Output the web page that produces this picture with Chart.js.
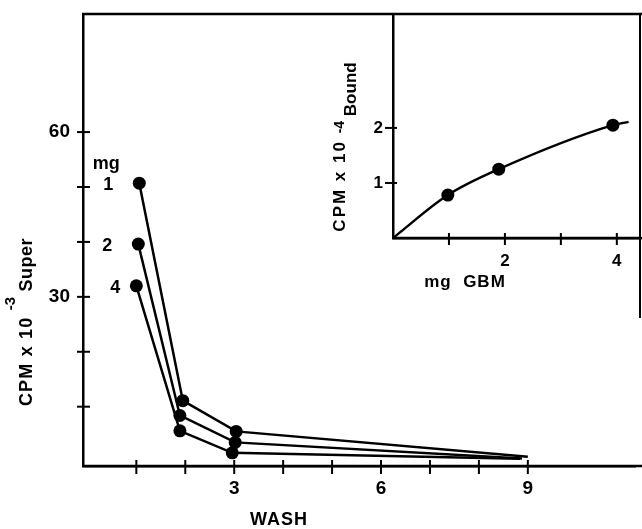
<!DOCTYPE html>
<html lang="en">
<head>
<meta charset="UTF-8">
<title>Wash</title>
<script src="https://cdn.jsdelivr.net/npm/chart.js@4.4.1/dist/chart.umd.min.js"></script>
<style>
  html, body { margin: 0; padding: 0; background: #fff; }
  #wrap { position: relative; width: 642px; height: 529px; }
  #main { position: absolute; left: 0; top: 0; }
  #inset { position: absolute; left: 330px; top: 0; }
</style>
</head>
<body>
<div id="wrap">
  <canvas id="main" width="642" height="529"></canvas>
  <canvas id="inset" width="312" height="320"></canvas>
</div>
<script>
// main plot: supernatant counts after each wash, per mg of GBM
var wash1mg = [1.06, 1.95, 3.04, 9.0];
var cpm1mg  = [50.7, 11.1, 5.5, 0.9];
var wash2mg = [1.04, 1.89, 3.02, 8.88];
var cpm2mg  = [39.6, 8.4, 3.5, 0.55];
var wash4mg = [1.0, 1.89, 2.96, 8.84];
var cpm4mg  = [32.0, 5.6, 1.6, 0.5];
var seriesNames = ['1', '2', '4'];

var washTicks = [1, 2, 3, 4, 5, 6, 7, 8, 9];
var washLabels = [3, 6, 9];
var cpmTicks = [10, 20, 30, 40, 50, 60];
var cpmLabels = [30, 60];

// inset: bound counts vs mg GBM
var gbmMg = [0, 0.98, 1.89, 3.93, 4.21];
var boundCpm = [0, 0.78, 1.25, 2.05, 2.11];
var gbmTicks = [1, 2, 3, 4];
var gbmLabels = [2, 4];
var boundTicks = [1, 2];
var boundLabels = [1, 2];

var FONT = 'Liberation Sans, Arial, sans-serif';

function pts(xs, ys) {
  return xs.map(function (x, i) { return { x: x, y: ys[i] }; });
}

function noPad(s) {
  s.paddingTop = 0; s.paddingBottom = 0; s.paddingLeft = 0; s.paddingRight = 0;
}

function drawRotated(ctx, cx, cy, parts) {
  ctx.save();
  ctx.translate(cx, cy);
  ctx.rotate(-Math.PI / 2);
  ctx.fillStyle = '#000';
  ctx.textBaseline = 'alphabetic';
  ctx.textAlign = 'left';
  var total = 0;
  parts.forEach(function (p) {
    ctx.font = p.font;
    ctx.letterSpacing = (p.ls || 0) + 'px';
    p.w = ctx.measureText(p.t).width;
    total += p.w;
  });
  var x = -total / 2;
  parts.forEach(function (p) {
    ctx.font = p.font;
    ctx.letterSpacing = (p.ls || 0) + 'px';
    ctx.fillText(p.t, x, p.dy || 0);
    x += p.w;
  });
  ctx.restore();
}

// tick marks crossing the axis line, like the "+" ticks on the print
function crossTicks(opts) {
  return {
    id: 'crossTicks',
    afterDraw: function (chart) {
      var ctx = chart.ctx, a = chart.chartArea;
      ctx.save();
      ctx.strokeStyle = '#000';
      ctx.lineWidth = 2;
      opts.x.forEach(function (v) {
        var px = chart.scales.x.getPixelForValue(v);
        ctx.beginPath();
        ctx.moveTo(px, a.bottom - opts.xIn);
        ctx.lineTo(px, a.bottom + opts.xOut);
        ctx.stroke();
      });
      opts.y.forEach(function (v) {
        var py = chart.scales.y.getPixelForValue(v);
        ctx.beginPath();
        ctx.moveTo(a.left - opts.yOut, py);
        ctx.lineTo(a.left + opts.yIn, py);
        ctx.stroke();
      });
      ctx.restore();
    }
  };
}

function lineSet(data, radii, mono) {
  return {
    data: data,
    borderColor: '#000',
    backgroundColor: '#000',
    borderWidth: 2.5,
    pointRadius: radii,
    pointBorderWidth: 0,
    fill: false,
    tension: 0,
    cubicInterpolationMode: mono ? 'monotone' : 'default'
  };
}

var mainDecor = {
  id: 'mainDecor',
  afterDraw: function (chart) {
    var ctx = chart.ctx, a = chart.chartArea;
    ctx.save();
    ctx.strokeStyle = '#000';
    ctx.lineWidth = 2.5;
    ctx.beginPath();
    ctx.moveTo(a.left - 1, a.top);
    ctx.lineTo(chart.width, a.top);
    ctx.moveTo(a.left, a.bottom);
    ctx.lineTo(chart.width, a.bottom);
    ctx.stroke();

    ctx.fillStyle = '#000';
    ctx.textAlign = 'center';
    ctx.textBaseline = 'middle';
    ctx.font = 'bold 18px ' + FONT;
    var firsts = [chart.getDatasetMeta(0).data[0], chart.getDatasetMeta(1).data[0], chart.getDatasetMeta(2).data[0]];
    var offs = [-31, -31, -21];
    firsts.forEach(function (p, i) {
      ctx.fillText(seriesNames[i], p.x + offs[i], p.y + 2);
    });
    ctx.fillText('mg', firsts[0].x - 33, firsts[0].y - 19);

    ctx.font = 'bold 18px ' + FONT;
    ctx.letterSpacing = '1px';
    ctx.fillText('WASH', 279, 520);
    ctx.letterSpacing = '0px';

    drawRotated(ctx, 32, 322, [
      { t: 'CPM x 10 ', font: 'bold 18px ' + FONT, ls: 1.2 },
      { t: '-3', font: 'bold 15px ' + FONT, dy: -17 },
      { t: ' Super', font: 'bold 18px ' + FONT, ls: 0.5 }
    ]);
    ctx.restore();
  }
};

new Chart(document.getElementById('main'), {
  type: 'line',
  data: {
    datasets: [
      lineSet(pts(wash1mg, cpm1mg), [6.5, 6.5, 6.5, 0]),
      lineSet(pts(wash2mg, cpm2mg), [6.5, 6.5, 6.5, 0]),
      lineSet(pts(wash4mg, cpm4mg), [6.5, 6.5, 6.5, 0])
    ]
  },
  options: {
    responsive: false,
    animation: false,
    devicePixelRatio: 1,
    layout: { padding: { top: 14, right: 0, left: 0, bottom: 0 } },
    plugins: { legend: { display: false }, tooltip: { enabled: false } },
    scales: {
      x: {
        type: 'linear',
        min: -0.09,
        max: 11.2,
        afterFit: function (s) { s.height = 63; noPad(s); },
        afterBuildTicks: function (s) { s.ticks = washTicks.map(function (v) { return { value: v }; }); },
        grid: { display: false, drawTicks: false },
        border: { display: true, color: '#000', width: 2.5 },
        ticks: {
          autoSkip: false,
          maxRotation: 0,
          padding: 11,
          color: '#000',
          font: { family: FONT, size: 19, weight: 'bold' },
          callback: function (v) { return washLabels.indexOf(v) >= 0 ? String(v) : ''; }
        }
      },
      y: {
        type: 'linear',
        min: -0.8,
        max: 81.5,
        afterFit: function (s) { s.width = 83; noPad(s); },
        afterBuildTicks: function (s) { s.ticks = cpmTicks.map(function (v) { return { value: v }; }); },
        grid: { display: false, drawTicks: false },
        border: { display: true, color: '#000', width: 2.5 },
        ticks: {
          autoSkip: false,
          padding: 13,
          color: '#000',
          font: { family: FONT, size: 19, weight: 'bold' },
          callback: function (v) { return cpmLabels.indexOf(v) >= 0 ? String(v) : ''; }
        }
      }
    }
  },
  plugins: [crossTicks({ x: washTicks, y: cpmTicks, xIn: 6, xOut: 8, yIn: 7, yOut: 6 }), mainDecor]
});

var insetDecor = {
  id: 'insetDecor',
  afterDraw: function (chart) {
    var ctx = chart.ctx, a = chart.chartArea;
    ctx.save();
    ctx.strokeStyle = '#000';
    ctx.lineWidth = 2;
    ctx.beginPath();
    ctx.moveTo(chart.width - 2, a.top);
    ctx.lineTo(chart.width - 2, a.bottom + 80);
    ctx.stroke();
    ctx.lineWidth = 2.5;
    ctx.beginPath();
    ctx.moveTo(a.left, a.bottom);
    ctx.lineTo(chart.width - 2, a.bottom);
    ctx.stroke();

    ctx.fillStyle = '#000';
    ctx.textAlign = 'center';
    ctx.textBaseline = 'middle';
    ctx.font = 'bold 17px ' + FONT;
    ctx.letterSpacing = '1px';
    ctx.fillText('mg  GBM', 135, 282);
    ctx.letterSpacing = '0px';

    drawRotated(ctx, 15, 147, [
      { t: 'CPM x 10 ', font: 'bold 17px ' + FONT, ls: 2 },
      { t: '-4', font: 'bold 14px ' + FONT, dy: -1 },
      { t: ' Bound', font: 'bold 17px ' + FONT, dy: 11 }
    ]);
    ctx.restore();
  }
};

new Chart(document.getElementById('inset'), {
  type: 'line',
  data: {
    datasets: [lineSet(pts(gbmMg, boundCpm), [0, 6.5, 6.5, 6.5, 0], true)]
  },
  options: {
    responsive: false,
    animation: false,
    devicePixelRatio: 1,
    layout: { padding: { top: 14, right: 0, left: 0, bottom: 0 } },
    plugins: { legend: { display: false }, tooltip: { enabled: false } },
    scales: {
      x: {
        type: 'linear',
        min: 0,
        max: 4.45,
        afterFit: function (s) { s.height = 82; noPad(s); },
        afterBuildTicks: function (s) { s.ticks = gbmTicks.map(function (v) { return { value: v }; }); },
        grid: { display: false, drawTicks: false },
        border: { display: true, color: '#000', width: 2.5 },
        ticks: {
          autoSkip: false,
          maxRotation: 0,
          padding: 13,
          color: '#000',
          font: { family: FONT, size: 17, weight: 'bold' },
          callback: function (v) { return gbmLabels.indexOf(v) >= 0 ? String(v) : ''; }
        }
      },
      y: {
        type: 'linear',
        min: 0,
        max: 4.07,
        afterFit: function (s) { s.width = 63; noPad(s); },
        afterBuildTicks: function (s) { s.ticks = boundTicks.map(function (v) { return { value: v }; }); },
        grid: { display: false, drawTicks: false },
        border: { display: true, color: '#000', width: 2.5 },
        ticks: {
          autoSkip: false,
          padding: 10,
          color: '#000',
          font: { family: FONT, size: 17, weight: 'bold' },
          callback: function (v) { return boundLabels.indexOf(v) >= 0 ? String(v) : ''; }
        }
      }
    }
  },
  plugins: [crossTicks({ x: gbmTicks, y: boundTicks, xIn: 5, xOut: 7, yIn: 4, yOut: 8 }), insetDecor]
});
</script>
</body>
</html>
